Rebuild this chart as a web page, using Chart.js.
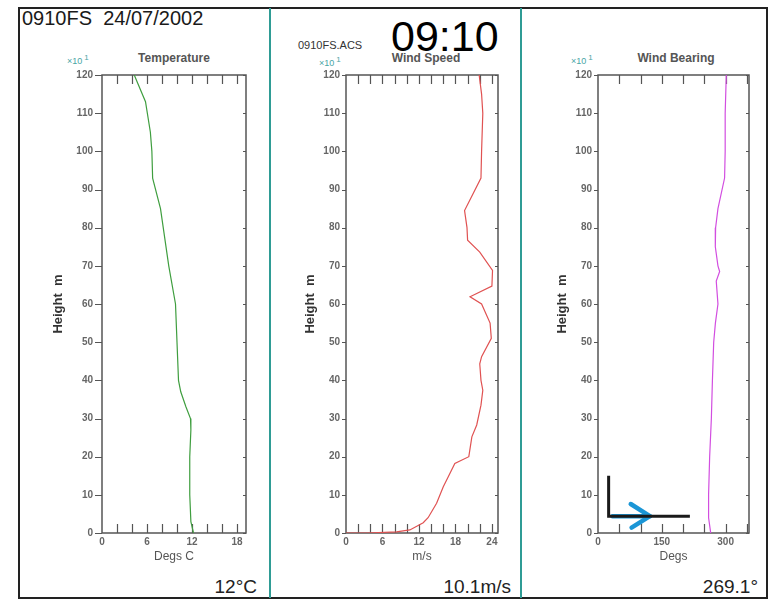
<!DOCTYPE html>
<html>
<head>
<meta charset="utf-8">
<script src="https://cdn.jsdelivr.net/npm/chart.js@4.4.1/dist/chart.umd.min.js"></script>
<style>
  body { margin: 0; background: #fff; }
  #stage { position: relative; width: 770px; height: 600px; overflow: hidden; font-family: Arial, "Liberation Sans", sans-serif; }
  .frame { position: absolute; left: 18px; top: 7px; width: 750px; height: 592px; border: 2px solid #222; box-sizing: border-box; }
  .divider { position: absolute; top: 8px; width: 2px; height: 590px; background: #2f9c95; }
  canvas { position: absolute; top: 10px; }
  .txt { position: absolute; white-space: nowrap; line-height: 1; }
  .ptitle { width: 140px; text-align: center; font-size: 12px; font-weight: bold; color: #555; top: 52px; }
  .mult { font-size: 9px; color: #4aa6a6; top: 57px; }
  .mult sup { font-size: 8px; position: relative; top: -4px; vertical-align: baseline; margin-left: 2px; }
  .value { font-size: 19px; color: #222; top: 577px; text-align: right; }
</style>
</head>
<body>
<div id="stage">
  <div class="frame"></div>
  <div class="divider" style="left:269px"></div>
  <div class="divider" style="left:520px"></div>

  <div class="txt" style="left:22px; top:8px; font-size:20px; color:#1a1a1a;">0910FS&nbsp;&nbsp;24/07/2002</div>
  <div class="txt" style="left:391px; top:15px; font-size:43px; color:#000;">09:10</div>
  <div class="txt" style="left:298px; top:40px; font-size:11px; color:#333;">0910FS.ACS</div>

  <div class="txt ptitle" style="left:104px;">Temperature</div>
  <div class="txt ptitle" style="left:356px;">Wind Speed</div>
  <div class="txt ptitle" style="left:606px;">Wind Bearing</div>

  <div class="txt mult" style="left:67px;">×10<sup>1</sup></div>
  <div class="txt mult" style="left:319px; top:59px;">×10<sup>1</sup></div>
  <div class="txt mult" style="left:571px;">×10<sup>1</sup></div>

  <div class="txt value" style="right:513px;">12°C</div>
  <div class="txt value" style="right:259px;">10.1m/s</div>
  <div class="txt value" style="right:12px;">269.1°</div>

  <canvas id="tempChart" width="246" height="585" style="left:22px"></canvas>
  <canvas id="windChart" width="246" height="585" style="left:272px"></canvas>
  <canvas id="bearChart" width="244" height="585" style="left:523px"></canvas>
</div>

<script>
// Height axis (x10 m)
const heightTicks = [0, 10, 20, 30, 40, 50, 60, 70, 80, 90, 100, 110, 120];

// Temperature profile
const tempHeight = [120, 113, 105, 100, 93, 85, 70, 60, 50, 40, 37, 33, 30, 27, 20, 10, 3, 0];
const tempValue  = [4.3, 5.8, 6.45, 6.65, 6.75, 7.8, 8.9, 9.8, 10.0, 10.2, 10.5, 11.2, 11.8, 11.85, 11.7, 11.7, 11.85, 12.2];
const tempTicks = [0, 6, 12, 18];
const tempMinor = [2, 4, 6, 8, 10, 12, 14, 16, 18];

// Wind speed profile
const windHeight = [120, 115, 110, 100, 93, 84.5, 80, 76.7, 73.6, 68.8, 64.7, 61.9, 60, 55, 51, 46.2, 44.3, 40, 37.4, 33.5, 28.3, 25.2, 20, 18.2, 14.7, 12.1, 7.8, 4, 2.7, 0.8, 0.3, 0, 0];
const windValue  = [21.9, 22.3, 22.5, 22.3, 22.2, 19.5, 19.9, 20.0, 22.0, 24.1, 24.0, 20.4, 22.3, 23.7, 23.9, 22.3, 22.0, 22.2, 22.5, 22.2, 21.5, 20.7, 20.2, 17.9, 16.8, 16.0, 14.9, 13.5, 12.7, 10.5, 8.3, 3.4, 0];
const windTicks = [0, 6, 12, 18, 24];
const windMinor = [2, 4, 6, 8, 10, 12, 14, 16, 18, 20, 22, 24];

// Wind bearing profile
const bearHeight = [120, 110, 100, 93, 85, 80, 75, 70, 68.5, 66, 60, 55, 50, 40, 30, 20, 10, 4, 0];
const bearValue  = [301.6, 299, 299, 297.6, 282, 276.5, 275.8, 282, 286, 278, 282, 276, 272, 269, 266.5, 262.5, 260, 260, 265];
const bearTicks = [0, 150, 300];
const bearMinor = [50, 100, 150, 200, 250, 300, 350];

// direction marker drawn on the bearing panel
const compassX = [25, 25, 216];
const compassY = [15, 4.4, 4.4];
const arrowX = [34, 122];
const arrowY = [4.4, 4.4];
const arrowHeadX = [77, 122, 79];
const arrowHeadY = [7.6, 4.4, 1.4];

Chart.defaults.font.family = 'Arial, "Liberation Sans", sans-serif';

function toPoints(hs, vs) {
    return hs.map((h, i) => ({ x: vs[i], y: h }));
}

// plot box plus the little inward ticks of the old plotting package
const frameTicks = {
    id: 'frameTicks',
    beforeDatasetsDraw(chart, args, opts) {
        const { ctx, chartArea: a, scales: { x, y } } = chart;
        ctx.save();
        ctx.strokeStyle = '#555';
        ctx.lineWidth = 1.5;
        ctx.strokeRect(a.left, a.top, a.width, a.height);
        ctx.lineWidth = 1.2;
        ctx.beginPath();
        opts.xMinor.forEach(v => {
            const px = Math.round(x.getPixelForValue(v)) + 0.5;
            ctx.moveTo(px, a.bottom); ctx.lineTo(px, a.bottom - 9);
            ctx.moveTo(px, a.top); ctx.lineTo(px, a.top + 9);
        });
        opts.yMinor.forEach(v => {
            const py = Math.round(y.getPixelForValue(v)) + 0.5;
            ctx.moveTo(a.left - opts.outLen, py); ctx.lineTo(a.left, py);
            ctx.moveTo(a.right - 3, py); ctx.lineTo(a.right, py);
        });
        ctx.stroke();
        ctx.restore();
    }
};

function buildPanel(id, cfg) {
    const titleHalf = 13 * 1.2 / 2;
    const canvas = document.getElementById(id);
    const canvasLeft = parseFloat(canvas.style.left);
    const scaleLeft = cfg.titleX - titleHalf;
    const padLeft = scaleLeft - canvasLeft;
    const yWidth = cfg.chartLeft - scaleLeft;
    const padRight = canvasLeft + canvas.width - cfg.chartRight;

    return new Chart(canvas.getContext('2d'), {
        type: 'scatter',
        data: { datasets: cfg.datasets },
        options: {
            responsive: false,
            animation: false,
            devicePixelRatio: 1,
            layout: { padding: { left: padLeft, right: padRight, top: 65, bottom: 27 } },
            plugins: {
                legend: { display: false },
                tooltip: { enabled: false },
                frameTicks: { xMinor: cfg.xMinor, yMinor: heightTicks, outLen: cfg.outLen }
            },
            scales: {
                x: {
                    type: 'linear', min: 0, max: cfg.xMax,
                    afterBuildTicks: s => { s.ticks = cfg.xTicks.map(v => ({ value: v })); },
                    afterFit: s => { s.height = 35; },
                    grid: { display: false, drawTicks: false },
                    border: { display: false },
                    ticks: { padding: 3, color: '#666', font: { size: 10, weight: 'bold' }, maxRotation: 0 },
                    title: { display: true, text: cfg.xTitle, color: '#555', font: { size: 12 }, padding: { top: 0, bottom: 4 } }
                },
                y: {
                    type: 'linear', min: 0, max: 120,
                    afterBuildTicks: s => { s.ticks = heightTicks.map(v => ({ value: v })); },
                    afterFit: s => { s.width = yWidth; },
                    grid: { display: false, drawTicks: false },
                    border: { display: false },
                    ticks: { padding: cfg.labelGap, color: '#666', font: { size: 10, weight: 'bold' } },
                    title: { display: true, text: 'Height  m', color: '#333', font: { size: 13, weight: 'bold' }, padding: 0 }
                }
            }
        },
        plugins: [frameTicks]
    });
}

function profileLine(points, color) {
    return { data: points, showLine: true, borderColor: color, borderWidth: 1.2, pointRadius: 0, tension: 0 };
}

buildPanel('tempChart', {
    chartLeft: 102, chartRight: 246, titleX: 58, labelGap: 9, outLen: 7,
    xMax: 19.2, xTicks: tempTicks, xMinor: tempMinor, xTitle: 'Degs C',
    datasets: [profileLine(toPoints(tempHeight, tempValue), '#3f9e3f')]
});

buildPanel('windChart', {
    chartLeft: 346, chartRight: 498, titleX: 310, labelGap: 6, outLen: 4,
    xMax: 25, xTicks: windTicks, xMinor: windMinor, xTitle: 'm/s',
    datasets: [profileLine(toPoints(windHeight, windValue), '#e05252')]
});

buildPanel('bearChart', {
    chartLeft: 598, chartRight: 749, titleX: 562, labelGap: 6, outLen: 4,
    xMax: 355, xTicks: bearTicks, xMinor: bearMinor, xTitle: 'Degs',
    datasets: [
        profileLine(toPoints(bearHeight, bearValue), '#d24ee0'),
        { data: toPoints(compassY, compassX), showLine: true, borderColor: '#1a1a1a', borderWidth: 3, pointRadius: 0 },
        { data: toPoints(arrowY, arrowX), showLine: true, borderColor: '#1b96d6', borderWidth: 4.5, pointRadius: 0, borderCapStyle: 'round' },
        { data: toPoints(arrowHeadY, arrowHeadX), showLine: true, borderColor: '#1b96d6', borderWidth: 4.5, pointRadius: 0, borderCapStyle: 'round', borderJoinStyle: 'round' }
    ]
});
</script>
</body>
</html>
